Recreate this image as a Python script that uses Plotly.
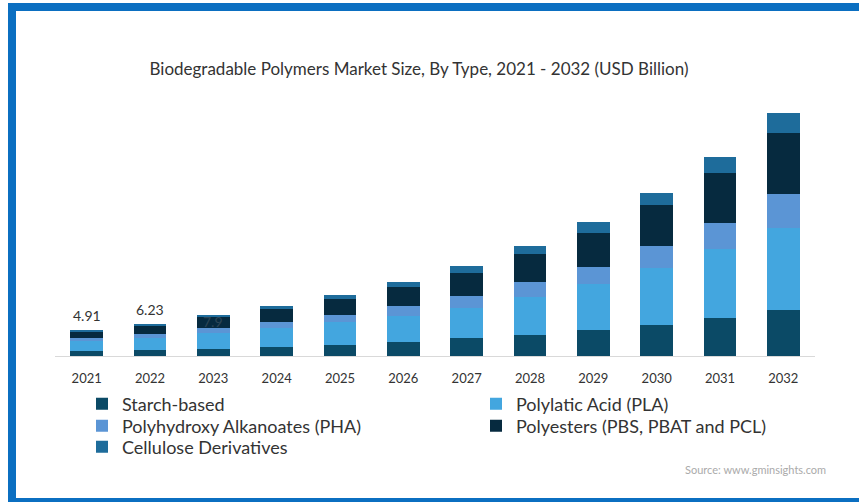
import plotly.graph_objects as go

years = ["2021", "2022", "2023", "2024", "2025", "2026", "2027", "2028", "2029", "2030", "2031", "2032"]
starch = [0.9, 1.1, 1.3, 1.8, 2.1, 2.75, 3.4, 4.04, 5.0, 5.96, 7.25, 8.85]
pla = [2.05, 2.45, 3.15, 3.65, 4.45, 5.0, 5.77, 7.37, 8.85, 11.04, 13.27, 15.85]
pha = [0.55, 0.65, 0.85, 1.05, 1.35, 1.9, 2.37, 2.88, 3.33, 4.15, 5.13, 6.54]
polyesters = [1.2, 1.73, 2.2, 2.6, 3.1, 3.7, 4.48, 5.27, 6.54, 7.83, 9.62, 11.6]
cellulose = [0.21, 0.3, 0.4, 0.55, 0.7, 0.96, 1.29, 1.6, 2.12, 2.44, 3.0, 3.85]

label_years = ["2021", "2022", "2023"]
label_values = [4.91, 6.23, 7.9]
label_texts = ["4.91", "6.23", "7.9"]

series = [
    ("Starch-based", starch, "#0b4a66", "legend"),
    ("Polylatic Acid (PLA)", pla, "#43a6df", "legend2"),
    ("Polyhydroxy Alkanoates (PHA)", pha, "#5b95d5", "legend3"),
    ("Polyesters (PBS, PBAT and PCL)", polyesters, "#062a3f", "legend4"),
    ("Cellulose Derivatives", cellulose, "#1e6c9b", "legend5"),
]

FONT = "Lato, 'Open Sans', sans-serif"
W, H = 859, 502
ML, MR, MT, MB = 55, 44, 100, 146
PW, PH = W - ML - MR, H - MT - MB


def px(x):
    return (x - ML) / PW


def py(y):
    return (H - MB - y) / PH


fig = go.Figure()
for name, vals, color, lg in series:
    fig.add_trace(go.Bar(
        x=years, y=vals, name=name, marker=dict(color=color, line=dict(width=0)),
        legend=lg, hoverinfo="x+y+name",
    ))

for yr, v, t in zip(label_years, label_values, label_texts):
    dark = t == "7.9"
    fig.add_annotation(
        x=years.index(yr), y=v, text=t, showarrow=False,
        yanchor="top" if dark else "bottom", yshift=4 if dark else 4,
        font=dict(family=FONT, size=14, color="#2c4556" if dark else "#333333"),
    )

fig.add_annotation(
    x=px(828), y=py(469), xref="paper", yref="paper", xanchor="right", yanchor="middle",
    text="Source: www.gminsights.com", showarrow=False,
    font=dict(family=FONT, size=11, color="#aaaaaa"),
)

blue = "#0b6fc1"
fig.add_shape(type="rect", xref="paper", yref="paper", x0=px(8), x1=px(16), y0=py(503), y1=py(3),
              fillcolor=blue, line=dict(width=0), layer="above")
fig.add_shape(type="rect", xref="paper", yref="paper", x0=px(8), x1=px(860), y0=py(11), y1=py(3),
              fillcolor=blue, line=dict(width=0), layer="above")
fig.add_shape(type="rect", xref="paper", yref="paper", x0=px(8), x1=px(860), y0=py(503), y1=py(498),
              fillcolor=blue, line=dict(width=0), layer="above")

leg_common = dict(font=dict(family=FONT, size=18, color="#333333"), bgcolor="rgba(0,0,0,0)",
                  xanchor="left", yanchor="middle", orientation="v")
leg_pos = {
    "legend": (82, 404),
    "legend2": (476, 404),
    "legend3": (82, 426),
    "legend4": (476, 426),
    "legend5": (82, 447),
}
legs = {k: dict(leg_common, x=px(x), y=py(y)) for k, (x, y) in leg_pos.items()}

fig.update_layout(
    width=W, height=H,
    margin=dict(l=ML, r=MR, t=MT, b=MB),
    paper_bgcolor="white", plot_bgcolor="white",
    barmode="stack", bargap=0.48,
    title=dict(text="Biodegradable Polymers Market Size, By Type, 2021 - 2032 (USD Billion)",
               x=px(419), xref="paper", xanchor="center", y=1 - 69 / H, yanchor="middle",
               font=dict(family=FONT, size=17, color="#333333")),
    xaxis=dict(type="category", range=[-0.5, len(years) - 0.5], showline=True,
               linecolor="#d9d9d9", linewidth=1, showgrid=False,
               ticks="outside", ticklen=10, tickcolor="rgba(0,0,0,0)",
               tickfont=dict(family=FONT, size=13, color="#333333"), fixedrange=True),
    yaxis=dict(range=[0, PH / 5.2], showticklabels=False, showgrid=False, zeroline=False,
               showline=False, fixedrange=True),
    showlegend=True,
    **legs,
)

fig.write_html("out.html", config={"displayModeBar": False},
               post_script="document.body.style.margin='0';")
